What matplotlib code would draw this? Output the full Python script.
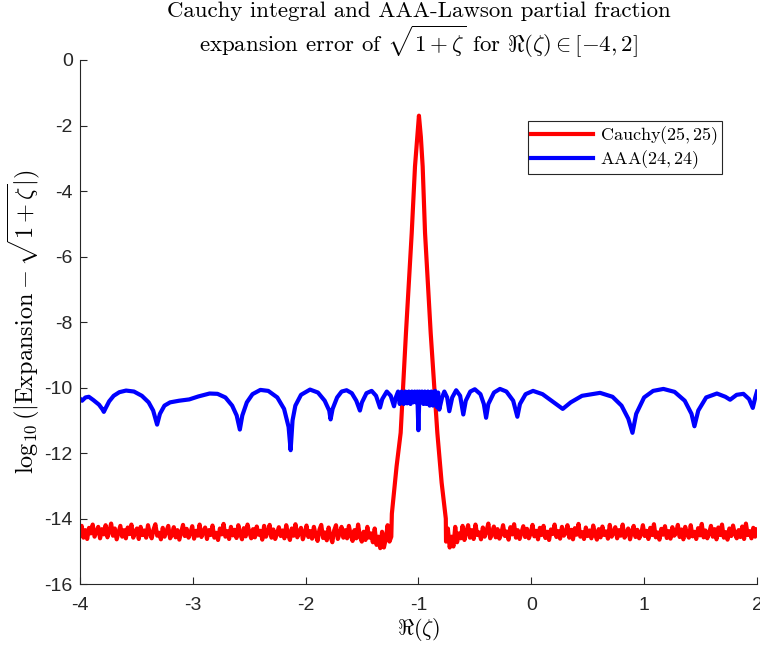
import numpy as np
import matplotlib
matplotlib.use("Agg")
import matplotlib.pyplot as plt

plt.rcParams['mathtext.fontset'] = 'cm'

# AAA(24,24) error curve
aaa_x = [-4.00, -3.98, -3.95, -3.92, -3.88, -3.83, -3.80, -3.787, -3.77, -3.74,
         -3.70, -3.65, -3.59, -3.52, -3.45, -3.39, -3.35, -3.315, -3.29, -3.25,
         -3.20, -3.12, -3.03, -2.95, -2.85, -2.78, -2.71, -2.65, -2.61, -2.582,
         -2.56, -2.52, -2.47, -2.40, -2.33, -2.25, -2.19, -2.15, -2.132, -2.115,
         -2.09, -2.04, -1.96, -1.89, -1.83, -1.79, -1.778, -1.76, -1.72, -1.68,
         -1.636, -1.59, -1.55, -1.518, -1.50, -1.46, -1.414, -1.375, -1.34, -1.32,
         -1.28, -1.245, -1.216, -1.20, -1.18, -1.165, -1.148, -1.13, -1.115, -1.10,
         -1.085, -1.07, -1.058, -1.045, -1.033, -1.02, -1.01, -1.00, -0.99, -0.98,
         -0.968, -0.955, -0.943, -0.93, -0.915, -0.90, -0.885, -0.87, -0.852, -0.835,
         -0.825, -0.815, -0.79, -0.77, -0.745, -0.726, -0.70, -0.665, -0.63, -0.602,
         -0.58, -0.54, -0.50, -0.45, -0.42, -0.40, -0.38, -0.33, -0.277, -0.22,
         -0.16, -0.123, -0.10, -0.05, 0.016, 0.10, 0.20, 0.279, 0.35, 0.45,
         0.61, 0.72, 0.80, 0.86, 0.897, 0.93, 1.00, 1.08, 1.171, 1.27,
         1.36, 1.42, 1.446, 1.48, 1.55, 1.645, 1.72, 1.762, 1.82, 1.88,
         1.93, 1.963, 1.985, 2.00]
aaa_y = [-10.33, -10.40, -10.30, -10.28, -10.38, -10.52, -10.66, -10.74, -10.62, -10.42,
         -10.25, -10.14, -10.09, -10.12, -10.25, -10.45, -10.70, -11.13, -10.80, -10.55,
         -10.45, -10.40, -10.36, -10.27, -10.18, -10.19, -10.30, -10.55, -10.85, -11.28,
         -10.85, -10.45, -10.20, -10.07, -10.10, -10.30, -10.65, -11.20, -11.91, -11.00,
         -10.55, -10.22, -10.06, -10.15, -10.40, -10.70, -10.97, -10.65, -10.30, -10.12,
         -10.08, -10.17, -10.40, -10.70, -10.45, -10.17, -10.10, -10.25, -10.61, -10.35,
         -10.12, -10.25, -10.57, -10.30, -10.12, -10.50, -10.12, -10.50, -10.12, -10.48,
         -10.12, -10.50, -10.12, -10.45, -10.12, -10.45, -10.12, -11.30, -10.12, -10.45,
         -10.12, -10.50, -10.12, -10.50, -10.12, -10.55, -10.12, -10.55, -10.10, -10.60,
         -10.15, -10.67, -10.30, -10.12, -10.30, -10.72, -10.30, -10.08, -10.25, -10.82,
         -10.40, -10.12, -10.05, -10.20, -10.50, -10.92, -10.50, -10.15, -10.04, -10.12,
         -10.40, -10.89, -10.50, -10.20, -10.10, -10.20, -10.45, -10.65, -10.45, -10.25,
         -10.16, -10.28, -10.55, -10.95, -11.38, -10.80, -10.30, -10.10, -10.04, -10.13,
         -10.40, -10.80, -11.18, -10.70, -10.30, -10.18, -10.28, -10.37, -10.22, -10.19,
         -10.35, -10.62, -10.30, -10.12]

# Cauchy(25,25) error: noisy floor left of the spike, the spike, noisy floor right
floor_left = [-14.50, -14.22, -14.58, -14.35, -14.62, -14.28, -14.45, -14.18, -14.55, -14.40,
              -14.25, -14.60, -14.32, -14.48, -14.20, -14.57, -14.38, -14.15, -14.52, -14.30,
              -14.63, -14.42, -14.22, -14.55, -14.35, -14.60, -14.27, -14.47, -14.18, -14.58,
              -14.40, -14.30, -14.62, -14.25, -14.50, -14.36, -14.58, -14.20, -14.45, -14.60,
              -14.33, -14.17, -14.52, -14.43, -14.63, -14.28, -14.55, -14.38, -14.22, -14.60,
              -14.48, -14.26, -14.57, -14.35, -14.64, -14.42, -14.19, -14.53, -14.31, -14.58,
              -14.44, -14.23, -14.61, -14.37, -14.52, -14.18, -14.56, -14.40, -14.27, -14.62,
              -14.35, -14.50, -14.21, -14.58, -14.43, -14.65, -14.30, -14.48, -14.16, -14.55,
              -14.38, -14.62, -14.25, -14.51, -14.34, -14.59, -14.20, -14.46, -14.63, -14.29,
              -14.54, -14.18, -14.42, -14.60, -14.32, -14.57, -14.24, -14.49, -14.37, -14.64,
              -14.22, -14.55, -14.41, -14.19, -14.58, -14.33, -14.62, -14.45, -14.26, -14.53,
              -14.36, -14.60, -14.20, -14.48, -14.65, -14.30, -14.52, -14.17, -14.57, -14.40,
              -14.28, -14.63, -14.45, -14.21, -14.56, -14.38, -14.61, -14.25, -14.50, -14.68,
              -14.34, -14.19, -14.59, -14.42, -14.66, -14.27, -14.54, -14.72, -14.36, -14.20,
              -14.62, -14.45, -14.25, -14.58, -14.35, -14.60, -14.22, -14.50, -14.68, -14.35,
              -14.60, -14.18, -14.55, -14.70, -14.40, -14.65, -14.25, -14.58, -14.45, -14.72,
              -14.30, -14.80, -14.55, -14.90, -14.40, -14.88, -14.62, -14.20, -14.70, -14.55]
spike_x = [-1.235, -1.193, -1.157, -1.110, -1.059, -1.030, -1.010, -0.995,
           -0.978, -0.962, -0.941, -0.891, -0.832, -0.794, -0.757]
spike_y = [-13.85, -12.40, -11.38, -8.33, -5.28, -3.25, -2.35, -1.70,
           -2.35, -3.25, -5.28, -8.33, -11.38, -12.90, -14.00]
floor_right = [-14.70, -14.30, -14.88, -14.55, -14.85, -14.25, -14.72, -14.45, -14.60, -14.22,
               -14.65, -14.40, -14.20, -14.58, -14.35, -14.62, -14.18, -14.50, -14.42, -14.63,
               -14.27, -14.55, -14.37, -14.15, -14.60, -14.44, -14.24, -14.57, -14.32, -14.61,
               -14.46, -14.20, -14.53, -14.39, -14.64, -14.26, -14.48, -14.17, -14.58, -14.35,
               -14.62, -14.42, -14.23, -14.56, -14.31, -14.60, -14.45, -14.19, -14.54, -14.37,
               -14.63, -14.28, -14.50, -14.22, -14.59, -14.40, -14.65, -14.33, -14.47, -14.18,
               -14.56, -14.38, -14.61, -14.25, -14.52, -14.44, -14.20, -14.58, -14.34, -14.63,
               -14.29, -14.49, -14.16, -14.55, -14.41, -14.62, -14.27, -14.53, -14.36, -14.60,
               -14.21, -14.47, -14.64, -14.32, -14.57, -14.24, -14.50, -14.39, -14.61, -14.19,
               -14.55, -14.43, -14.26, -14.60, -14.35, -14.52, -14.18, -14.58, -14.45, -14.30,
               -14.63, -14.40, -14.22, -14.56, -14.34, -14.60, -14.48, -14.20, -14.53, -14.37,
               -14.62, -14.28, -14.50, -14.17, -14.57, -14.42, -14.64, -14.31, -14.49, -14.23,
               -14.59, -14.38, -14.61, -14.26, -14.52, -14.45, -14.19, -14.56, -14.33, -14.63,
               -14.25, -14.48, -14.58, -14.20, -14.54, -14.40, -14.62, -14.29, -14.51, -14.16,
               -14.57, -14.36, -14.60, -14.44, -14.22, -14.55, -14.32, -14.63, -14.27, -14.50,
               -14.18, -14.58, -14.41, -14.64, -14.30, -14.53, -14.21, -14.47, -14.60, -14.35,
               -14.56, -14.24, -14.62, -14.15, -14.50, -14.38, -14.60, -14.28, -14.55, -14.33]

xticks = [-4, -3, -2, -1, 0, 1, 2]
yticks = [0, -2, -4, -6, -8, -10, -12, -14, -16]

# floors are sampled evenly between the domain edge and the spike feet
left_x = np.linspace(-4.0, -1.24, len(floor_left))
right_x = np.linspace(-0.755, 2.0, len(floor_right))
cauchy_x = np.concatenate([left_x, spike_x, right_x])
cauchy_y = np.concatenate([floor_left, spike_y, floor_right])

fig = plt.figure(figsize=(7.6, 6.52), dpi=100)
ax = fig.add_axes([0.105, 0.104, 0.891, 0.804])

ax.plot(cauchy_x, cauchy_y, color='red', lw=3, label=r'$\mathrm{Cauchy}(25,25)$')
ax.plot(aaa_x, aaa_y, color='blue', lw=3, label=r'$\mathrm{AAA}(24,24)$')

ax.set_xlim(-4, 2)
ax.set_ylim(-16, 0)
ax.set_xticks(xticks)
ax.set_yticks(yticks)
ax.set_xticklabels([str(t) for t in xticks], fontfamily='Liberation Sans', fontsize=14)
ax.set_yticklabels([str(t) for t in yticks], fontfamily='Liberation Sans', fontsize=14)
ax.tick_params(direction='in', length=5, width=0.8, colors='#262626')
ax.tick_params(axis='x', pad=9)
ax.tick_params(axis='y', pad=5)
for s in ['top', 'right']:
    ax.spines[s].set_visible(False)
for s in ['left', 'bottom']:
    ax.spines[s].set_color('#262626')
    ax.spines[s].set_linewidth(0.8)

ax.set_title('Cauchy integral and AAA-Lawson partial fraction\n'
             r'expansion error of $\sqrt{1+\zeta}$ for $\Re(\zeta)\in[-4,2]$',
             fontfamily='cmr10', fontsize=16.5, pad=4, linespacing=1.1)
ax.set_xlabel(r'$\Re(\zeta)$', fontsize=16, labelpad=2)
ax.set_ylabel(r'$\log_{10}(|\mathrm{Expansion}-\sqrt{1+\zeta}|)$', fontsize=17.5, labelpad=2)

leg = ax.legend(loc='upper right', bbox_to_anchor=(0.948, 0.884), borderaxespad=0,
                fancybox=False, edgecolor='#262626', framealpha=1, fontsize=13,
                handlelength=3.4, handletextpad=0.4, borderpad=0.2, labelspacing=0.05)
leg.get_frame().set_linewidth(0.8)

fig.savefig('out.png', dpi=100)
